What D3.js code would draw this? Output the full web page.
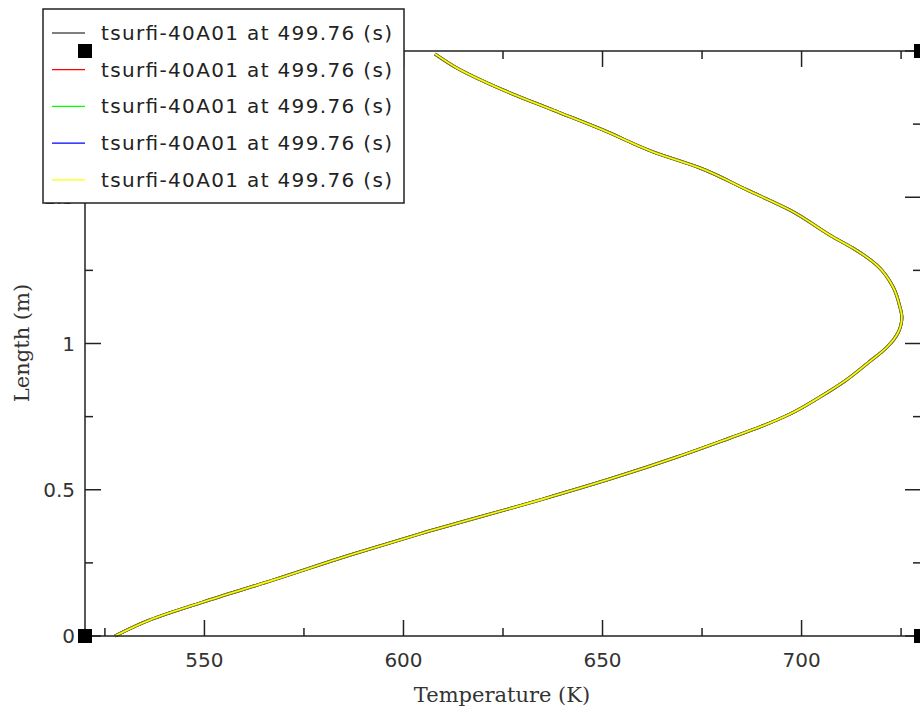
<!DOCTYPE html>
<html>
<head>
<meta charset="utf-8">
<script src="https://cdn.jsdelivr.net/npm/d3@7"></script>
<style>
  html, body { margin: 0; padding: 0; background: #fff; }
  svg { display: block; }
  .tick-label { font-family: "DejaVu Sans", sans-serif; font-size: 20px; fill: #333; }
  .axis-title { font-family: "DejaVu Serif", serif; font-size: 21px; fill: #333; }
  .legend-text { font-family: "DejaVu Sans", sans-serif; font-size: 20px; fill: #222; }
</style>
</head>
<body>
<svg id="chart"></svg>
<script>
// Temperature (K) along the length (m)
const temperature = [527.5, 536.3, 549.6, 567.2, 586.6, 604.1, 635.0, 652.6, 668.7, 682.0,
  689.6, 697.1, 704.6, 710.9, 716.7, 721.5, 724.2, 725.2, 724.7, 723.0,
  718.9, 712.9, 707.9, 697.1, 686.3, 674.5, 662.7, 650.1, 637.6, 625.0, 613.4, 607.9];
const length = [0, 0.055, 0.116, 0.191, 0.277, 0.349, 0.468, 0.540, 0.612, 0.677,
  0.715, 0.759, 0.817, 0.872, 0.934, 0.988, 1.036, 1.091, 1.125, 1.193,
  1.268, 1.326, 1.364, 1.456, 1.525, 1.600, 1.655, 1.730, 1.798, 1.867, 1.942, 1.990];

const seriesNames = ['tsurfi-40A01 at 499.76 (s)', 'tsurfi-40A01 at 499.76 (s)',
  'tsurfi-40A01 at 499.76 (s)', 'tsurfi-40A01 at 499.76 (s)', 'tsurfi-40A01 at 499.76 (s)'];
const seriesColors = ['#000000', '#ff0000', '#00ff00', '#0000ff', '#ffff00'];

const xMajor = [550, 600, 650, 700];
const xMinor = [525, 575, 625, 675, 725];
const yMajor = [0, 0.5, 1, 1.5, 2];
const yMinor = [0.25, 0.75, 1.25, 1.75];
const yLabels = ['0', '0.5', '1', '1.5', '2'];

// corner markers
const cornerT = [520, 730, 730, 520];
const cornerL = [0, 0, 2, 2];

(function() {
    'use strict';

    const width = 920, height = 708;
    const svg = d3.select('#chart').attr('width', width).attr('height', height);

    const x = d3.scaleLinear().domain([520, 730]).range([85, 921]);
    const y = d3.scaleLinear().domain([0, 2]).range([636, 51]);

    const points = temperature.map((t, i) => ({ t: t, l: length[i] }));

    const line = d3.line()
        .x(d => x(d.t))
        .y(d => y(d.l))
        .curve(d3.curveMonotoneY);

    // Curves: all series share the same data, yellow ends on top
    seriesColors.forEach((c, i) => {
        const last = i === seriesColors.length - 1;
        svg.append('path')
            .datum(points)
            .attr('fill', 'none')
            .attr('stroke', last ? c : '#77773a')
            .attr('stroke-width', last ? 1.6 : 3)
            .attr('stroke-linejoin', 'round')
            .attr('d', line);
    });

    // Frame
    const x0 = x(520), x1 = x(730), y0 = y(0), y1 = y(2);
    svg.append('rect')
        .attr('x', x0).attr('y', y1)
        .attr('width', x1 - x0).attr('height', y0 - y1)
        .attr('fill', 'none')
        .attr('stroke', '#222')
        .attr('stroke-width', 1.5);

    const tickG = svg.append('g').attr('stroke', '#222').attr('stroke-width', 1.5);

    function xTicks(vals, len) {
        vals.forEach(v => {
            tickG.append('line').attr('x1', x(v)).attr('x2', x(v)).attr('y1', y0).attr('y2', y0 - len);
            tickG.append('line').attr('x1', x(v)).attr('x2', x(v)).attr('y1', y1).attr('y2', y1 + len);
        });
    }
    function yTicks(vals, len) {
        vals.forEach(v => {
            tickG.append('line').attr('y1', y(v)).attr('y2', y(v)).attr('x1', x0).attr('x2', x0 + len);
            tickG.append('line').attr('y1', y(v)).attr('y2', y(v)).attr('x1', x1).attr('x2', x1 - len);
        });
    }
    xTicks(xMajor, 16);
    xTicks(xMinor, 8);
    yTicks(yMajor, 16);
    yTicks(yMinor, 8);

    // Tick labels
    svg.selectAll('.xl')
        .data(xMajor)
        .enter()
        .append('text')
        .attr('class', 'tick-label')
        .attr('x', d => x(d))
        .attr('y', 667)
        .attr('text-anchor', 'middle')
        .text(d => d);

    svg.selectAll('.yl')
        .data(yMajor)
        .enter()
        .append('text')
        .attr('class', 'tick-label')
        .attr('x', 75)
        .attr('y', d => y(d) + 7)
        .attr('text-anchor', 'end')
        .text((d, i) => yLabels[i]);

    // Axis titles
    svg.append('text')
        .attr('class', 'axis-title')
        .attr('x', 502)
        .attr('y', 702)
        .attr('text-anchor', 'middle')
        .text('Temperature (K)');

    svg.append('text')
        .attr('class', 'axis-title')
        .attr('transform', 'translate(29, 343) rotate(-90)')
        .attr('text-anchor', 'middle')
        .text('Length (m)');

    // Legend
    const legend = svg.append('g');
    legend.append('rect')
        .attr('x', 43).attr('y', 9)
        .attr('width', 361).attr('height', 194)
        .attr('fill', '#fff')
        .attr('stroke', '#222')
        .attr('stroke-width', 1.5);

    seriesNames.forEach((name, i) => {
        const ry = 33 + i * 36.7;
        legend.append('line')
            .attr('x1', 52).attr('x2', 85)
            .attr('y1', ry).attr('y2', ry)
            .attr('stroke', seriesColors[i])
            .attr('stroke-width', 1.2);
        legend.append('text')
            .attr('class', 'legend-text')
            .attr('x', 101)
            .attr('y', ry + 7)
            .attr('textLength', 291)
            .attr('lengthAdjust', 'spacing')
            .text(name);
    });

    // Corner squares
    svg.selectAll('.corner')
        .data(cornerT)
        .enter()
        .append('rect')
        .attr('x', d => x(d) - 7)
        .attr('y', (d, i) => y(cornerL[i]) - 7)
        .attr('width', 14)
        .attr('height', 14)
        .attr('fill', '#000');
})();
</script>
</body>
</html>
